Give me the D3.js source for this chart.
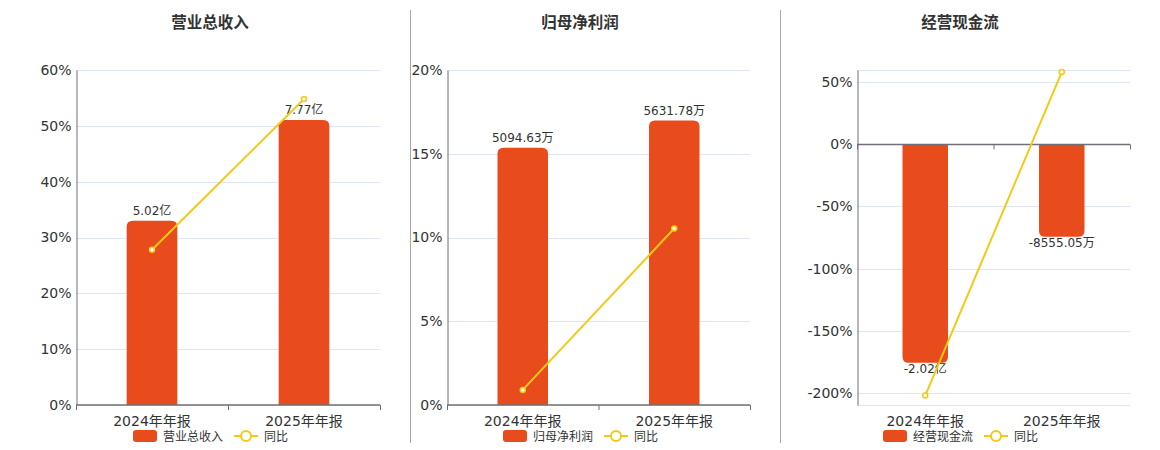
<!DOCTYPE html>
<html>
<head>
<meta charset="utf-8">
<script src="https://cdn.jsdelivr.net/npm/d3@7/dist/d3.min.js"></script>
<style>
  body { margin: 0; background: #fff; }
  svg { font-family: "DejaVu Sans", "Noto Sans CJK SC", sans-serif; }
</style>
</head>
<body>
<div id="chart"></div>
<script>
const categories = ["2024年年报", "2025年年报"];

// 营业总收入 (亿) and 同比 (%)
const revenue = [5.02, 7.77];
const revenueLabels = ["5.02亿", "7.77亿"];
const revenueYoy = [27.8, 54.8];

// 归母净利润 (万) and 同比 (%)
const profit = [5094.63, 5631.78];
const profitLabels = ["5094.63万", "5631.78万"];
const profitYoy = [0.9, 10.54];

// 经营现金流 (亿) and 同比 (%)
const cashflow = [-2.02, -0.855505];
const cashflowLabels = ["-2.02亿", "-8555.05万"];
const cashflowYoy = [-202.4, 58.3];

const pctTicks1 = [0, 10, 20, 30, 40, 50, 60];
const pctTicks2 = [0, 5, 10, 15, 20];
const pctTicks3 = [-200, -150, -100, -50, 0, 50];

const barColor = "#e84b1c";
const lineColor = "#f2ca16";

const svg = d3.select("#chart")
  .append("svg")
  .attr("width", 1160)
  .attr("height", 450);

// separators between panels
[410, 780].forEach((x) => {
  svg.append("line")
    .attr("x1", x + 0.5).attr("x2", x + 0.5)
    .attr("y1", 10).attr("y2", 443)
    .attr("stroke", "#a8a8a8")
    .attr("stroke-width", 1);
});

const panels = [
  {
    title: "营业总收入", center: 210, x0: 76, x1: 380,
    bars: revenue, labels: revenueLabels, yoy: revenueYoy,
    pctDomain: [0, 60], pctTicks: pctTicks1, barDomain: [0, 9.13]
  },
  {
    title: "归母净利润", center: 580, x0: 447, x1: 750,
    bars: profit, labels: profitLabels, yoy: profitYoy,
    pctDomain: [0, 20], pctTicks: pctTicks2, barDomain: [0, 6633]
  },
  {
    title: "经营现金流", center: 960, x0: 857, x1: 1130,
    bars: cashflow, labels: cashflowLabels, yoy: cashflowYoy,
    pctDomain: [-210, 60], pctTicks: pctTicks3, barDomain: [-2.41, 0.683]
  }
];

const plotTop = 70, plotBottom = 405;

function barPath(x, w, y0, y1, r) {
  // rounded on the end away from zero
  if (y1 < y0) {
    return `M${x},${y0}V${y1 + r}Q${x},${y1} ${x + r},${y1}H${x + w - r}Q${x + w},${y1} ${x + w},${y1 + r}V${y0}Z`;
  }
  return `M${x},${y0}V${y1 - r}Q${x},${y1} ${x + r},${y1}H${x + w - r}Q${x + w},${y1} ${x + w},${y1 - r}V${y0}Z`;
}

panels.forEach((p) => {
  const g = svg.append("g");

  const x = d3.scaleBand().domain(categories).range([p.x0, p.x1]);
  const yPct = d3.scaleLinear().domain(p.pctDomain).range([plotBottom, plotTop]);
  const yBar = d3.scaleLinear().domain(p.barDomain).range([plotBottom, plotTop]);

  // title
  g.append("text")
    .attr("x", p.center)
    .attr("y", 28)
    .attr("text-anchor", "middle")
    .attr("font-size", 15.5)
    .attr("font-weight", "bold")
    .attr("fill", "#333")
    .text(p.title);

  // grid lines (including domain ends)
  const gridVals = p.pctTicks.concat(p.pctDomain);
  g.selectAll(".grid")
    .data(gridVals)
    .enter()
    .append("line")
    .attr("x1", p.x0).attr("x2", p.x1)
    .attr("y1", (d) => Math.round(yPct(d)) + 0.5).attr("y2", (d) => Math.round(yPct(d)) + 0.5)
    .attr("stroke", "#e0e6f1")
    .attr("stroke-width", 1);

  // y axis
  const yAxis = d3.axisLeft(yPct)
    .tickValues(p.pctTicks)
    .tickSize(0)
    .tickPadding(5)
    .tickFormat((d) => d + "%");
  const ya = g.append("g")
    .attr("transform", `translate(${p.x0 + 0.5},0)`)
    .call(yAxis);
  ya.select(".domain").attr("stroke", "#6e7079");
  ya.selectAll("text").attr("font-size", 14).attr("fill", "#333")
    .attr("font-family", "DejaVu Sans, sans-serif");

  // bars
  const zero = yBar(0);
  const bw = x.bandwidth() / 3;
  g.selectAll(".bar")
    .data(p.bars)
    .enter()
    .append("path")
    .attr("d", (d, i) => barPath(x(categories[i]) + (x.bandwidth() - bw) / 2, bw, zero, yBar(d), 6))
    .attr("fill", barColor);

  // x axis at zero
  const axisY = yPct(0);
  g.append("line")
    .attr("x1", p.x0).attr("x2", p.x1)
    .attr("y1", axisY).attr("y2", axisY)
    .attr("stroke", "#6e7079")
    .attr("stroke-width", 1.5);
  const boundaries = categories.map((c) => x(c)).concat([p.x1]);
  g.selectAll(".xtick")
    .data(boundaries)
    .enter()
    .append("line")
    .attr("x1", (d) => d + 0.5).attr("x2", (d) => d + 0.5)
    .attr("y1", axisY).attr("y2", axisY + 5)
    .attr("stroke", "#6e7079");

  // x labels
  g.selectAll(".xlabel")
    .data(categories)
    .enter()
    .append("text")
    .attr("x", (d) => x(d) + x.bandwidth() / 2)
    .attr("y", 426)
    .attr("text-anchor", "middle")
    .attr("font-size", 14)
    .attr("fill", "#333")
    .text((d) => d);

  // value labels
  g.selectAll(".vlabel")
    .data(p.bars)
    .enter()
    .append("text")
    .attr("x", (d, i) => x(categories[i]) + x.bandwidth() / 2)
    .attr("y", (d) => (d >= 0 ? yBar(d) - 6 : yBar(d) + 10))
    .attr("text-anchor", "middle")
    .attr("font-size", 12)
    .attr("fill", "#333")
    .text((d, i) => p.labels[i]);

  // yoy line
  const line = d3.line()
    .x((d, i) => x(categories[i]) + x.bandwidth() / 2)
    .y((d) => yPct(d));
  g.append("path")
    .datum(p.yoy)
    .attr("d", line)
    .attr("fill", "none")
    .attr("stroke", lineColor)
    .attr("stroke-width", 2);
  g.selectAll(".pt")
    .data(p.yoy)
    .enter()
    .append("circle")
    .attr("cx", (d, i) => x(categories[i]) + x.bandwidth() / 2)
    .attr("cy", (d) => yPct(d))
    .attr("r", 2.5)
    .attr("fill", "#fff")
    .attr("stroke", lineColor)
    .attr("stroke-width", 1.5);

  // legend
  const lg = g.append("g").attr("transform", `translate(${p.center - 77},0)`);
  lg.append("rect")
    .attr("x", 0).attr("y", 430)
    .attr("width", 24).attr("height", 12)
    .attr("rx", 3)
    .attr("fill", barColor);
  lg.append("text")
    .attr("x", 30).attr("y", 440.5)
    .attr("font-size", 12)
    .attr("fill", "#333")
    .text(p.title);
  lg.append("line")
    .attr("x1", 101).attr("x2", 125)
    .attr("y1", 436).attr("y2", 436)
    .attr("stroke", lineColor)
    .attr("stroke-width", 2);
  lg.append("circle")
    .attr("cx", 113).attr("cy", 436)
    .attr("r", 5)
    .attr("fill", "#fff")
    .attr("stroke", lineColor)
    .attr("stroke-width", 2);
  lg.append("text")
    .attr("x", 131).attr("y", 440.5)
    .attr("font-size", 12)
    .attr("fill", "#333")
    .text("同比");
});
</script>
</body>
</html>
